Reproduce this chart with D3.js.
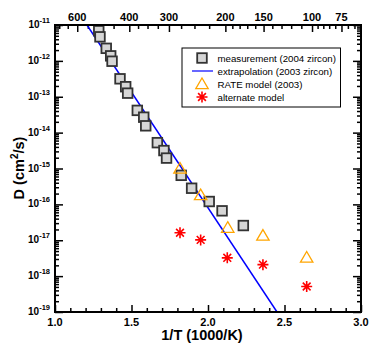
<!DOCTYPE html>
<html lang="en">
<head>
<meta charset="utf-8">
<title>Diffusion vs 1/T</title>
<script src="https://cdn.jsdelivr.net/npm/d3@7"></script>
<style>
body { margin: 0; background: #fff; }
text { font-family: "Liberation Sans", Arial, Helvetica, sans-serif; }
.tick-lbl { font-weight: bold; font-size: 11px; }
.axis-title { font-weight: bold; font-size: 14.5px; }
.legend text { font-size: 9.7px; }
</style>
</head>
<body>
<script>
// measurement (2004 zircon): 1/T (1000/K), log10 D
var measX = [1.286, 1.294, 1.335, 1.364, 1.373, 1.425, 1.462, 1.475, 1.538, 1.580,
             1.593, 1.669, 1.712, 1.729, 1.825, 1.893, 2.008, 2.092, 2.231];
var measLogD = [-11.16, -11.33, -11.65, -11.86, -12.01, -12.50, -12.72, -12.90, -13.38, -13.57,
                -13.81, -14.28, -14.50, -14.71, -15.19, -15.55, -15.92, -16.18, -16.59];

// extrapolation (2003 zircon)
var extrapX = [1.209, 2.451];
var extrapLogD = [-11, -19];

// RATE model (2003)
var rateX = [1.817, 1.952, 2.129, 2.359, 2.645];
var rateLogD = [-15.00, -15.74, -16.65, -16.87, -17.48];

// alternate model
var altX = [1.817, 1.952, 2.126, 2.359, 2.645];
var altLogD = [-16.79, -16.99, -17.49, -17.68, -18.29];

var xMajor = [1.0, 1.5, 2.0, 2.5, 3.0];
var xMinor = [1.1, 1.2, 1.3, 1.4, 1.6, 1.7, 1.8, 1.9, 2.1, 2.2, 2.3, 2.4, 2.6, 2.7, 2.8, 2.9];
var tempMajor = [600, 400, 300, 200, 150, 100, 75];
var tempMinor = [700, 650, 550, 500, 450, 375, 350, 325, 275, 250, 225,
                 190, 180, 170, 160, 140, 130, 120, 110, 95, 90, 85, 80, 70, 65];
var yExponents = [-19, -18, -17, -16, -15, -14, -13, -12, -11];

var legendLabels = ["measurement (2004 zircon)", "extrapolation (2003 zircon)",
                    "RATE model (2003)", "alternate model"];

var W = 390, H = 347;
var L = 55, R = 361, T = 25, B = 312;

var svg = d3.select("body").append("svg").attr("width", W).attr("height", H);

var x = d3.scaleLinear().domain([1, 3]).range([L, R]);
var y = d3.scaleLog().domain([1e-19, 1e-11]).range([B, T]);
function invT(c) { return 1000 / (c + 273.15); }

// minor log ticks
var yMinor = [];
yExponents.slice(0, -1).forEach(function(e) {
  for (var k = 2; k <= 9; k++) yMinor.push(k * Math.pow(10, e));
});
var yMajor = yExponents.map(function(e) { return Math.pow(10, e); });

function drawAxis(axis, tx, ty) {
  var g = svg.append("g").attr("transform", "translate(" + tx + "," + ty + ")").call(axis);
  g.select(".domain").remove();
  g.selectAll("line").attr("stroke", "#000").attr("stroke-width", 1.5);
  g.selectAll("text").remove();
  return g;
}

// bottom
drawAxis(d3.axisBottom(x).tickValues(xMajor).tickSize(-7), 0, B);
drawAxis(d3.axisBottom(x).tickValues(xMinor).tickSize(-4), 0, B);
// top (temperature °C)
drawAxis(d3.axisTop(x).tickValues(tempMajor.map(invT)).tickSize(-7), 0, T);
drawAxis(d3.axisTop(x).tickValues(tempMinor.map(invT)).tickSize(-4), 0, T);
// left / right
drawAxis(d3.axisLeft(y).tickValues(yMajor).tickSize(-8), L, 0);
drawAxis(d3.axisLeft(y).tickValues(yMinor).tickSize(-4), L, 0);
drawAxis(d3.axisRight(y).tickValues(yMajor).tickSize(-8), R, 0);
drawAxis(d3.axisRight(y).tickValues(yMinor).tickSize(-4), R, 0);

// tick labels
svg.selectAll(".xl").data(xMajor).enter().append("text")
  .attr("class", "tick-lbl").attr("x", function(d) { return x(d); }).attr("y", 325.5)
  .attr("text-anchor", "middle").text(function(d) { return d.toFixed(1); });

svg.selectAll(".tl").data(tempMajor).enter().append("text")
  .attr("class", "tick-lbl").attr("x", function(d) { return x(invT(d)); }).attr("y", 21)
  .attr("text-anchor", "middle").text(function(d) { return d; });

var yl = svg.selectAll(".yl").data(yExponents).enter().append("text")
  .attr("x", 50).attr("y", function(d) { return y(Math.pow(10, d)) + 3; })
  .attr("text-anchor", "end").style("font-weight", "bold");
yl.append("tspan").style("font-size", "10px").text("10");
yl.append("tspan").style("font-size", "7.5px").attr("dy", -5).text(function(d) { return d; });

// axis titles
svg.append("text").attr("class", "axis-title").attr("x", 202).attr("y", 339.5)
  .attr("text-anchor", "middle").text("1/T  (1000/K)");
var yt = svg.append("text").attr("class", "axis-title")
  .attr("transform", "translate(23.5,168) rotate(-90)").attr("text-anchor", "middle");
yt.append("tspan").text("D  (cm");
yt.append("tspan").attr("dy", -6).style("font-size", "10px").text("2");
yt.append("tspan").attr("dy", 6).text("/s)");

// clip
svg.append("clipPath").attr("id", "plot").append("rect")
  .attr("x", L).attr("y", T).attr("width", R - L).attr("height", B - T);
var plot = svg.append("g").attr("clip-path", "url(#plot)");

// extrapolation line
var line = d3.line().x(function(d) { return x(d[0]); }).y(function(d) { return y(Math.pow(10, d[1])); });
plot.append("path").datum(d3.zip(extrapX, extrapLogD)).attr("d", line)
  .attr("fill", "none").attr("stroke", "#0000ff").attr("stroke-width", 1.5);

function square(g) {
  g.append("rect").attr("x", -4.8).attr("y", -4.8).attr("width", 9.6).attr("height", 9.6)
    .attr("fill", "#d6d6d6").attr("stroke", "#333").attr("stroke-width", 1.8);
}
function triangle(g) {
  g.append("path").attr("d", "M0,-6L6.2,4.6L-6.2,4.6Z")
    .attr("fill", "none").attr("stroke", "#ffa500").attr("stroke-width", 1.3);
}
function star(g) {
  var r = 5.5, d = "";
  for (var i = 0; i < 4; i++) {
    var a = i * Math.PI / 4;
    d += "M" + (r * Math.cos(a)) + "," + (r * Math.sin(a)) + "L" + (-r * Math.cos(a)) + "," + (-r * Math.sin(a));
  }
  g.append("path").attr("d", d).attr("stroke", "#ff0000").attr("stroke-width", 1.6);
}

function markers(xs, ys, fn) {
  d3.zip(xs, ys).forEach(function(p) {
    var g = plot.append("g").attr("transform", "translate(" + x(p[0]) + "," + y(Math.pow(10, p[1])) + ")");
    fn(g);
  });
}
markers(measX, measLogD, square);
markers(rateX, rateLogD, triangle);
markers(altX, altLogD, star);

// frame
svg.append("rect").attr("x", L).attr("y", T).attr("width", R - L).attr("height", B - T)
  .attr("fill", "none").attr("stroke", "#000").attr("stroke-width", 2);

// legend
var lg = svg.append("g").attr("class", "legend");
lg.append("rect").attr("x", 182).attr("y", 48).attr("width", 158.5).attr("height", 59)
  .attr("fill", "#fff").attr("stroke", "#000").attr("stroke-width", 1);
var rowY = [58, 71, 84, 97];
legendLabels.forEach(function(lbl, i) {
  var g = lg.append("g").attr("transform", "translate(202," + rowY[i] + ")");
  if (i === 0) square(g);
  if (i === 1) g.append("line").attr("x1", -10).attr("x2", 11).attr("stroke", "#0000ff").attr("stroke-width", 1.2);
  if (i === 2) triangle(g);
  if (i === 3) star(g);
  lg.append("text").attr("x", 217.5).attr("y", rowY[i] + 3.5).text(lbl);
});
</script>
</body>
</html>
